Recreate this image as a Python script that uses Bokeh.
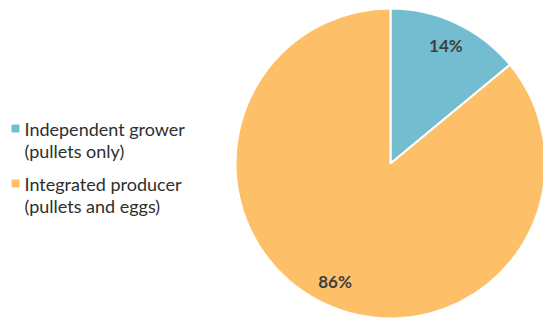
import math
from bokeh.plotting import figure
from bokeh.models import Range1d, ColumnDataSource
from bokeh.core.properties import value
from bokeh.embed import file_html
from bokeh.resources import INLINE

legend_line1 = ["Independent grower", "Integrated producer"]
legend_line2 = ["(pullets only)", "(pullets and eggs)"]
shares = [14, 86]
colors = ["#74BDD0", "#FDC069"]

W, H = 543, 321
p = figure(width=W, height=H, output_backend="svg", toolbar_location=None,
           x_range=Range1d(0, W), y_range=Range1d(0, H), min_border=0)
p.axis.visible = False
p.grid.visible = False
p.outline_line_color = None
p.background_fill_color = "white"

cx, cy, R = 390, H - 163, 155
total = sum(shares)
starts, ends, lx, ly, labels = [], [], [], [], []
a = math.pi / 2
for s in shares:
    sweep = s / total * 2 * math.pi
    end = a
    start = a - sweep
    starts.append(start)
    ends.append(end)
    mid = (start + end) / 2
    lx.append(cx + 0.84 * R * math.cos(mid))
    ly.append(cy + 0.84 * R * math.sin(mid))
    labels.append(f"{s}%")
    a = start

src = ColumnDataSource(dict(start=starts, end=ends, color=colors))
p.wedge(x=cx, y=cy, radius=R, start_angle="start", end_angle="end",
        fill_color="color", line_color="white", line_width=2, source=src)
p.text(x=lx, y=ly, text=labels, text_font=value("Lato"), text_font_style="bold",
       text_font_size="17px", text_color="#404040", text_align="center", text_baseline="middle")

# legend
ly1 = [H - 128, H - 183]
p.scatter(x=[15, 15], y=ly1, marker="square", size=7, color=colors)
p.text(x=[24, 24], y=ly1, text=legend_line1, text_font=value("Lato"),
       text_font_size="18px", text_color="#2e2e2e", text_baseline="middle")
p.text(x=[24, 24], y=[v - 22 for v in ly1], text=legend_line2, text_font=value("Lato"),
       text_font_size="18px", text_color="#2e2e2e", text_baseline="middle")

open("out.html", "w").write(file_html(p, INLINE))
